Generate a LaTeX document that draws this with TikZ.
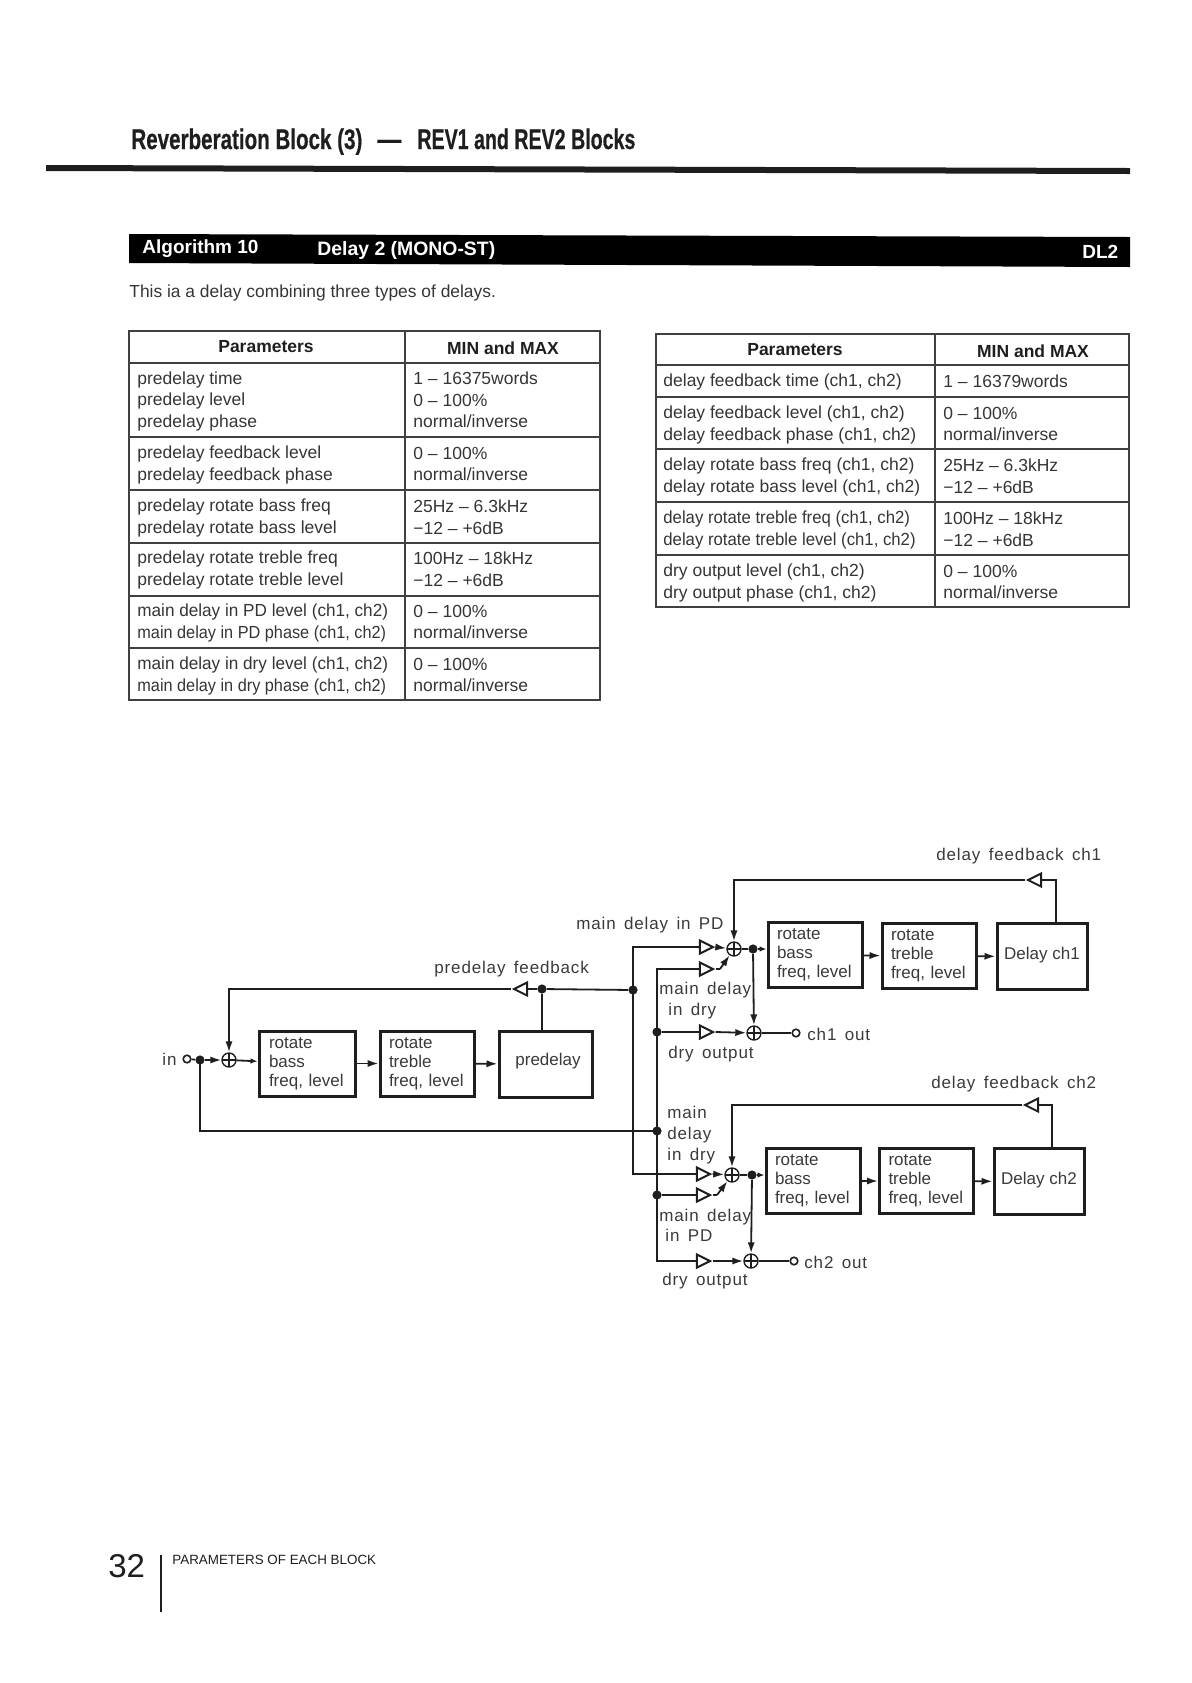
\documentclass[tikz,border=0pt]{standalone}
\usepackage{fontspec}
\setmainfont{Liberation Sans}
\newfontfamily\lblfont[LetterSpace=5,WordSpace=1.5]{Liberation Sans}
\newfontfamily\titlefont[FakeBold=0.6]{Liberation Sans Bold}
\usetikzlibrary{arrows.meta,shapes.geometric}
\definecolor{ink}{HTML}{1E1E1E}
\definecolor{lbl}{HTML}{3A3A3A}
\newcommand{\sq}[2]{\scalebox{#1}[1]{#2}}
\tikzset{
  cell/.style={anchor=west,inner sep=0pt,align=left,text=ink!90,font=\fontsize{8.75}{10.75}\selectfont},
  lcell/.style={cell,yshift=-1pt},
  headcell/.style={inner sep=0pt,text=ink,yshift=-.5pt,font=\fontsize{8.75}{10.75}\selectfont\bfseries},
  rule/.style={draw=ink!85,line width=.7pt},
  rotbox/.style={draw=ink,fill=white,line width=1.5pt,inner xsep=4.5pt,inner ysep=0pt,text width=38pt,align=left,minimum height=32.5pt,text=lbl,font=\fontsize{8.5}{9.6}\selectfont},
  delaybox/.style={draw=ink,fill=white,line width=1.5pt,inner sep=0pt,minimum width=#1,minimum height=33pt,text=lbl,font=\fontsize{8.5}{9.6}\selectfont},
  sumnode/.style={circle,draw=ink,line width=.7pt,fill=white,inner sep=0pt,minimum size=7pt,path picture={
     \draw[line width=.6pt,ink] (path picture bounding box.north)--(path picture bounding box.south)
       (path picture bounding box.west)--(path picture bounding box.east);}},
  ampr/.style={isosceles triangle,isosceles triangle stretches,draw=ink,fill=white,line width=1pt,inner sep=0pt,minimum width=6.5pt,minimum height=6.5pt},
  ampl/.style={ampr,shape border rotate=180},
  junction/.style={circle,fill=ink,inner sep=0pt,minimum size=4.6pt},
  port/.style={circle,draw=ink,fill=white,line width=.8pt,inner sep=0pt,minimum size=3.8pt},
  lab/.style={anchor=west,inner sep=0pt,text=lbl,align=left,font=\lblfont\fontsize{8.5}{10.3}\selectfont},
  wire/.style={draw=ink,line width=.9pt},
  arr/.style={wire,-{Latex[length=5.5pt,width=3.6pt]}},
  sarr/.style={wire,-{Latex[length=3.5pt,width=2.8pt]}},
  banner/.style={anchor=west,inner sep=0pt,text=white,font=\fontsize{9.5}{11}\selectfont\bfseries},
  titlepart/.style={anchor=base west,inner sep=0pt,text=ink,font=\titlefont\fontsize{14.2}{15}\selectfont},
}
\begin{document}
\begin{tikzpicture}[x=0.5pt,y=-0.5pt]
\useasboundingbox (0,0) rectangle (1191,1683);

% heading
\node[titlepart] (title) at (131,149) {\resizebox{115.5pt}{\height}{Reverberation Block (3)}};
\node[titlepart] (titledash) at (377,149) {\resizebox{12pt}{\height}{—}};
\node[titlepart] (titleb) at (417,149) {\resizebox{109pt}{\height}{REV1 and REV2 Blocks}};
\fill[ink] (46,165) -- (1130,168) -- (1130,174) -- (46,171) -- cycle;
\fill[black] (129,234) -- (1130,237) -- (1130,267) -- (129,263) -- cycle;
\node[banner] (alg) at (142,249) {Algorithm 10};
\node[banner,font=\fontsize{9.7}{11}\selectfont\bfseries] (algname) at (317,250) {Delay 2 (MONO-ST)};
\node[banner] (algcode) at (1082,252) {DL2};
\node[anchor=west,inner sep=0pt,text=ink!90,font=\fontsize{8.7}{10}\selectfont] (intro) at (129,293) {This ia a delay combining three types of delays.};

% left table
\draw[rule] (129,331) rectangle (600,700);
\draw[rule] (405,331) -- (405,700);
\foreach \yy in {363,437,490,543,596,648} \draw[rule] (129,\yy) -- (600,\yy);
\node[headcell] (lh1) at (266,346) {Parameters};
\node[headcell] (lh2) at (503,347) {MIN and MAX};
\node[lcell] (la1) at (137,399) {predelay time\\predelay level\\predelay phase};
\node[cell] (lb1) at (413,400) {1 – 16375words\\0 – 100\%\\normal/inverse};
\node[lcell] (la2) at (137,463) {predelay feedback level\\predelay feedback phase};
\node[cell] (lb2) at (413,464) {0 – 100\%\\normal/inverse};
\node[lcell] (la3) at (137,516) {predelay rotate bass freq\\predelay rotate bass level};
\node[cell] (lb3) at (413,517) {25Hz – 6.3kHz\\−12 – +6dB};
\node[lcell] (la4) at (137,568) {predelay rotate treble freq\\predelay rotate treble level};
\node[cell] (lb4) at (413,569) {100Hz – 18kHz\\−12 – +6dB};
\node[lcell] (la5) at (137,621) {\sq{.98}{main delay in PD level (ch1, ch2)}\\\sq{.93}{main delay in PD phase (ch1, ch2)}};
\node[cell] (lb5) at (413,622) {0 – 100\%\\normal/inverse};
\node[lcell] (la6) at (137,674) {\sq{.98}{main delay in dry level (ch1, ch2)}\\\sq{.93}{main delay in dry phase (ch1, ch2)}};
\node[cell] (lb6) at (413,675) {0 – 100\%\\normal/inverse};

% right table
\draw[rule] (656,334) rectangle (1129,607);
\draw[rule] (935,334) -- (935,607);
\foreach \yy in {365,397,449,502,555} \draw[rule] (656,\yy) -- (1129,\yy);
\node[headcell] (rh1) at (795,349) {Parameters};
\node[headcell] (rh2) at (1033,350) {MIN and MAX};
\node[lcell] (ra1) at (663,380) {delay feedback time (ch1, ch2)};
\node[cell] (rb1) at (943,381) {1 – 16379words};
\node[lcell] (ra2) at (663,423) {delay feedback level (ch1, ch2)\\delay feedback phase (ch1, ch2)};
\node[cell] (rb2) at (943,424) {0 – 100\%\\normal/inverse};
\node[lcell] (ra3) at (663,475) {delay rotate bass freq (ch1, ch2)\\delay rotate bass level (ch1, ch2)};
\node[cell] (rb3) at (943,476) {25Hz – 6.3kHz\\−12 – +6dB};
\node[lcell] (ra4) at (663,528) {\sq{.957}{delay rotate treble freq (ch1, ch2)}\\\sq{.957}{delay rotate treble level (ch1, ch2)}};
\node[cell] (rb4) at (943,529) {100Hz – 18kHz\\−12 – +6dB};
\node[lcell] (ra5) at (663,581) {dry output level (ch1, ch2)\\dry output phase (ch1, ch2)};
\node[cell] (rb5) at (943,582) {0 – 100\%\\normal/inverse};

% footer
\node[anchor=west,inner sep=0pt,text=ink,font=\fontsize{16.5}{18}\selectfont] (pageno) at (108,1566) {32};
\draw[ink,line width=.6pt] (161,1555) -- (161,1612);
\node[anchor=west,inner sep=0pt,text=ink,font=\fontsize{6.7}{9}\selectfont] (section) at (172,1560) {PARAMETERS OF EACH BLOCK};

% --- predelay section ---
\node[lab] (inlab) at (162,1059) {in};
\node[port] (inp) at (187,1059) {};
\node[junction] (jin) at (200,1060) {};
\node[sumnode] (s0) at (229,1060) {};
\node[rotbox,inner xsep=5pt] (b0a) at (307,1063.5) {rotate\\bass\\\mbox{freq, level}};
\node[rotbox] (b0b) at (427,1063.5) {rotate\\treble\\\mbox{freq, level}};
\node[delaybox=46.5pt] (b0c) at (545.5,1064) {\hspace*{2.5pt}\raisebox{5pt}{predelay}};
\node[ampl] (t0) at (523,989) {};
\node[junction] (jtap) at (542,989) {};
\node[junction] (jfb) at (633,990) {};
\node[lab] (l0) at (434,969) {predelay feedback};

% --- channel 1 ---
\node[ampr] (ta1) at (704,947) {};
\node[ampr] (ta2) at (704,969) {};
\node[ampr] (td1) at (704,1032) {};
\node[sumnode] (s1) at (734,949) {};
\node[junction] (j1) at (753,949) {};
\node[sumnode] (s1o) at (754,1033) {};
\node[port] (o1) at (796,1033) {};
\node[rotbox] (b1a) at (815,955) {rotate\\bass\\\mbox{freq, level}};
\node[rotbox] (b1b) at (929,956) {rotate\\treble\\\mbox{freq, level}};
\node[delaybox=45pt] (b1c) at (1042,956.5) {\raisebox{3.5pt}{Delay ch1}};
\node[ampl] (tf1) at (1037,880) {};
\coordinate (b1top) at (1056,923);
\coordinate (bend1) at (720,969);
\node[lab] at (936,856) (l1) {delay feedback ch1};
\node[lab] at (576,925) (l2) {main delay in PD};
\node[lab] at (659,1000.5) (l3) {main delay\\\hspace*{4.5pt}in dry};
\node[lab] at (668,1054) (l4) {dry output};
\node[lab] at (807,1034) (l5) {ch1 out};

% --- channel 2 ---
\node[junction] (jv1) at (657,1032) {};
\node[junction] (jv2) at (657,1131) {};
\node[junction] (jv3) at (657,1195) {};
\node[ampr] (tb1) at (701,1174) {};
\node[ampr] (tb2) at (701,1195) {};
\node[ampr] (td2) at (701,1261) {};
\node[sumnode] (s2) at (732,1175) {};
\node[junction] (j2) at (752,1175) {};
\node[sumnode] (s2o) at (751,1261) {};
\node[port] (o2) at (794,1261) {};
\node[rotbox] (b2a) at (813,1181) {rotate\\bass\\\mbox{freq, level}};
\node[rotbox] (b2b) at (926.5,1181) {rotate\\treble\\\mbox{freq, level}};
\node[delaybox=45pt] (b2c) at (1039,1181.5) {\raisebox{3pt}{Delay ch2}};
\node[ampl] (tf2) at (1034,1105) {};
\coordinate (b2top) at (1052,1149);
\coordinate (bend2) at (717,1195);
\node[lab] at (931,1084) (l6) {delay feedback ch2};
\node[lab] at (667,1135) (l7) {main\\delay\\in dry};
\node[lab] at (659,1225.5) (l8) {main delay\\\hspace*{3pt}in PD};
\node[lab] at (662,1281) (l9) {dry output};
\node[lab] at (804,1262) (l10) {ch2 out};

% connectors: predelay
\draw[wire] (inp) -- (jin);
\draw[arr] (jin) -- (s0);
\draw[sarr] (s0) -- (b0a);
\draw[arr] (b0a) -- (b0b);
\draw[arr] (b0b) -- (b0c);
\draw[wire] (b0c.north -| jtap) -- (jtap);
\draw[wire] (jfb) -- (jtap) -- (t0.0);
\draw[arr] (t0.180) -| (s0);
\draw[wire] (jin.center) |- (jv2.center);

% connectors: channel 1
\draw[wire] (ta1.180) -| (jfb.center);
\draw[wire] (jfb.center) |- (tb1.180);
\draw[wire] (ta2.180) -| (jv1.center);
\draw[wire] (jv1.center) -- (jv2.center) -- (jv3.center);
\draw[wire] (jv3.center) |- (td2.180);
\draw[wire] (jv1) -- (td1.180);
\draw[arr] (ta1.0) -- (s1);
\draw[wire] (ta2.0) -- (bend1);
\draw[arr] (bend1) -- (s1);
\draw[wire] (s1) -- (j1);
\draw[sarr] (j1) -- (b1a.west |- j1);
\draw[arr] (j1) -- (s1o);
\draw[arr] (td1.0) -- (s1o);
\draw[wire] (s1o) -- (o1);
\draw[arr] (b1a) -- (b1b);
\draw[arr] (b1b) -- (b1c);
\draw[wire] (b1top) |- (tf1.0);
\draw[arr] (tf1.180) -| (s1);

% connectors: channel 2
\draw[wire] (jv3) -- (tb2.180);
\draw[arr] (tb1.0) -- (s2);
\draw[wire] (tb2.0) -- (bend2);
\draw[arr] (bend2) -- (s2);
\draw[wire] (s2) -- (j2);
\draw[sarr] (j2) -- (b2a.west |- j2);
\draw[arr] (j2) -- (s2o);
\draw[arr] (td2.0) -- (s2o);
\draw[wire] (s2o) -- (o2);
\draw[arr] (b2a) -- (b2b);
\draw[arr] (b2b) -- (b2c);
\draw[wire] (b2top) |- (tf2.0);
\draw[arr] (tf2.180) -| (s2);
\end{tikzpicture}
\end{document}
